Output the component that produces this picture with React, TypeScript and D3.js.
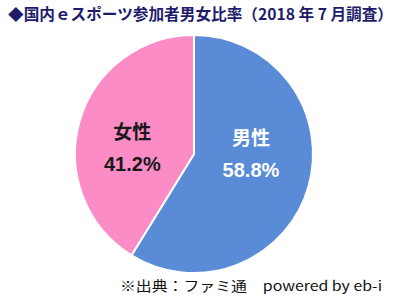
import React from "react";
import * as d3 from "d3";

const categories = ["男性", "女性"];
const values = [58.8, 41.2];
const valueLabels = ["58.8%", "41.2%"];
const colors = ["#5A8BD6", "#FB8CC6"];
const titleText = "◆国内ｅスポーツ参加者男女比率（2018 年 7 月調査）";
const sourceText = "※出典：ファミ通　powered by eb-i";

export default function App() {
  const W = 400, H = 302;
  const cx = 194, cy = 154, r = 119;
  const pie = d3.pie<number>().sort(null).value((d) => d);
  const arcs = pie(values);
  const arcGen = d3.arc<d3.PieArcDatum<number>>().innerRadius(0).outerRadius(r);
  const textColors = ["#ffffff", "#1a1a1a"];
  const angleShift = [-0.3, -0.17];
  const labelRadius = [57, 62];
  return (
    <svg width={W} height={H} style={{ position: "absolute", left: 0, top: 0 }}>
      <rect width={W} height={H} fill="#fff" />
      <text x={8} y={20} fontSize={15.5} fontWeight="bold" fill="#1C1C6B"
        fontFamily="'Noto Sans CJK JP', sans-serif" textLength={385} lengthAdjust="spacingAndGlyphs">
        {titleText}
      </text>
      <g transform={`translate(${cx},${cy})`}>
        {arcs.map((a, i) => (
          <path key={i} d={arcGen(a) || ""} fill={colors[i]} stroke="#fff" strokeWidth={2} />
        ))}
        {arcs.map((a, i) => {
          const mid = (a.startAngle + a.endAngle) / 2 + angleShift[i];
          const x = Math.sin(mid) * labelRadius[i];
          const y = -Math.cos(mid) * labelRadius[i];
          return (
            <g key={"l" + i} transform={`translate(${x},${y})`} fill={textColors[i]}
              fontFamily="'Noto Sans CJK JP', sans-serif" fontWeight="bold" textAnchor="middle">
              <text y={-8} fontSize={19}>{categories[i]}</text>
              <text y={24} fontSize={20} fontFamily="'Liberation Sans', Arial, sans-serif">{valueLabels[i]}</text>
            </g>
          );
        })}
      </g>
      <text x={120} y={291} fontSize={13.5} fill="#111"
        fontFamily="'Noto Sans CJK JP', monospace" textLength={262} lengthAdjust="spacingAndGlyphs">
        {sourceText}
      </text>
    </svg>
  );
}
